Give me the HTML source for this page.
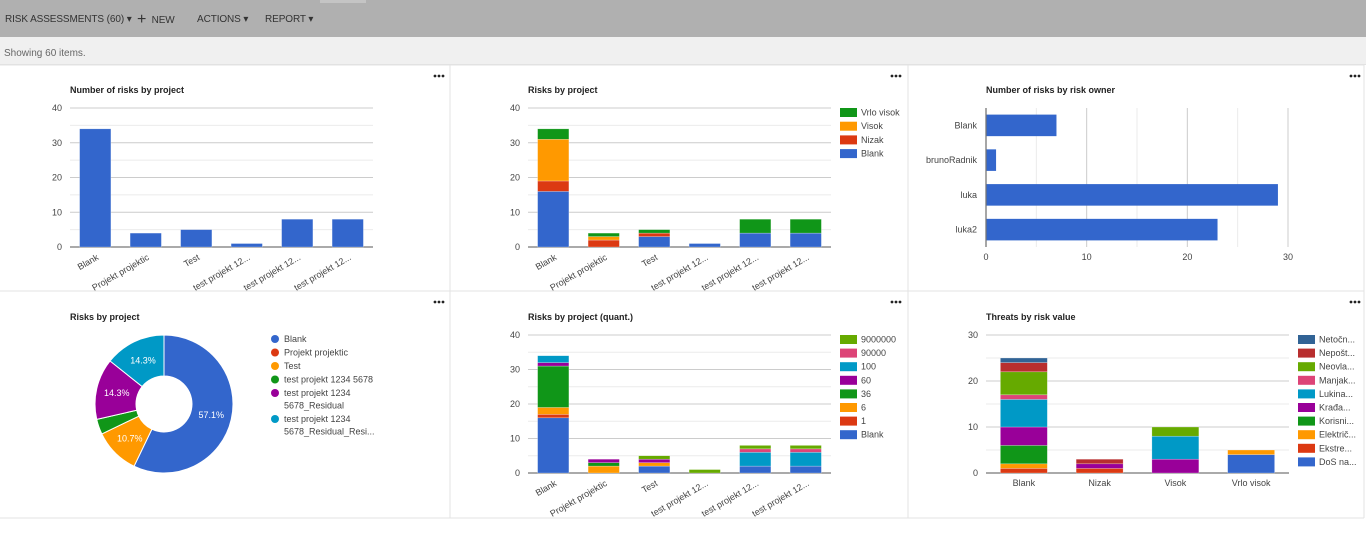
<!DOCTYPE html>
<html><head><meta charset="utf-8">
<style>
html,body{margin:0;padding:0;width:1366px;height:549px;overflow:hidden;background:#fff;font-family:"Liberation Sans",Arial,sans-serif}
#topbar{position:absolute;left:0;top:0;width:1366px;height:37px;background:#b0b0b0;}
#topbar span{position:absolute;top:14px;font-size:10px;color:#333;white-space:nowrap;letter-spacing:-0.1px}
#sub{position:absolute;left:0;top:37px;width:1366px;height:27px;background:#f0f0f0;border-bottom:1px solid #e2e2e2}
#sub span{position:absolute;left:4px;top:11px;font-size:10px;color:#666}
svg{position:absolute;left:0;top:0}
</style></head><body>
<div id="topbar">
<div style="position:absolute;left:320px;top:0;width:46px;height:3px;background:#c4c4c4"></div>
<span style="left:5px">RISK ASSESSMENTS (60) ▾</span>
<span style="left:137px;top:10px"><b style="font-size:16px;font-weight:normal;position:relative;top:1px">+</b>&nbsp; NEW</span>
<span style="left:197px">ACTIONS ▾</span>
<span style="left:265px">REPORT ▾</span>
</div>
<div id="sub"><span>Showing 60 items.</span></div>
<svg id="s" width="1366" height="549" xmlns="http://www.w3.org/2000/svg" style="top:0"></svg>
<script>
// ---- data ----
const projCats = ["Blank","Projekt projektic","Test","test projekt 12...","test projekt 12...","test projekt 12..."];
const projCounts = [34,4,5,1,8,8];
const levelSeries = ["Blank","Nizak","Visok","Vrlo visok"];
const levelBlank = [16,0,3,1,4,4];
const levelNizak = [3,2,1,0,0,0];
const levelVisok = [12,1,0,0,0,0];
const levelVrlo = [3,1,1,0,4,4];
const ownerCats = ["Blank","brunoRadnik","luka","luka2"];
const ownerCounts = [7,1,29,23];
const pieLabels = ["Blank","Projekt projektic","Test","test projekt 1234 5678","test projekt 1234 5678_Residual","test projekt 1234 5678_Residual_Resi..."];
const pieValues = [16,0,3,1,4,4];
const quantSeries = ["Blank","1","6","36","60","100","90000","9000000"];
const qBlank = [16,0,2,0,2,2];
const q1 = [1,0,0,0,0,0];
const q6 = [2,2,1,0,0,0];
const q36 = [12,1,0,0,0,0];
const q60 = [1,1,1,0,0,0];
const q100 = [2,0,0,0,4,4];
const q90000 = [0,0,0,0,1,1];
const q9000000 = [0,0,1,1,1,1];
const threatCats = ["Blank","Nizak","Visok","Vrlo visok"];
const threatSeries = ["DoS na...","Ekstre...","Električ...","Korisni...","Krađa...","Lukina...","Manjak...","Neovla...","Nepošt...","Netočn..."];
const tDoS = [0,0,0,4];
const tEkstre = [1,1,0,0];
const tElektr = [1,0,0,1];
const tKorisni = [4,0,0,0];
const tKrada = [4,1,3,0];
const tLukina = [6,0,5,0];
const tManjak = [1,0,0,0];
const tNeovla = [5,0,2,0];
const tNepost = [2,1,0,0];
const tNetocn = [1,0,0,0];

const S = document.getElementById('s');
const NS = "http://www.w3.org/2000/svg";
function mk(tag, attrs, parent){const e=document.createElementNS(NS,tag);for(const k in attrs)e.setAttribute(k,attrs[k]);(parent||S).appendChild(e);return e;}
function txt(x,y,t,attrs,parent){const e=mk('text',Object.assign({x:x,y:y,'font-size':9,fill:'#444','font-family':'Liberation Sans, Arial, sans-serif'},attrs||{}),parent);e.textContent=t;return e;}

// panel borders
[[450,65,450,518],[908,65,908,518],[1364,65,1364,518],[0,291,1364,291],[0,518,1364,518],[0,65,1364,65]].forEach(l=>{
  const e=mk('line',{x1:l[0],y1:l[1],x2:l[2],y2:l[3],stroke:'#e3e3e3','stroke-width':1});
  
  
});
[[439,76],[896,76],[1355,76],[439,302],[896,302],[1355,302]].forEach(p=>{
  const g=mk('g',{});
  
  
  [-4,0,4].forEach(d=>mk('circle',{cx:p[0]+d,cy:p[1],r:1.4,fill:'#222'},g));
});

function title(x,y,t){const e=txt(x,y,t,{'font-weight':'bold',fill:'#222'});}

function vAxis(g,x0,x1,y0,y1,max,step){
  const sc=v=>y0-(v/max)*(y0-y1);
  for(let v=0;v<=max;v+=step/2){
    const major=(v%step===0);
    const l=mk('line',{x1:x0,x2:x1,y1:sc(v),y2:sc(v),stroke:major?'#ccc':'#ebebeb','stroke-width':1},g);
    
    
    if(major){const t=txt(x0-8,sc(v)+3,String(v),{'text-anchor':'end'},g);}
  }
  const b=mk('line',{x1:x0,x2:x1,y1:y0,y2:y0,stroke:'#777','stroke-width':1.3},g);
  
  
  return sc;
}

function stackedChart(opt){
  const g=mk('g',{});
  
  
  const sc=vAxis(g,opt.x0,opt.x1,opt.y0,opt.y1,opt.max,opt.step);
  const n=opt.cats.length, band=(opt.x1-opt.x0)/n, bw=band*opt.bwr;
  for(let i=0;i<n;i++){
    const cx=opt.x0+band*(i+0.5);
    let acc=0;
    opt.series.forEach((s,si)=>{
      const v=s[i]; if(!v) return;
      const yTop=sc(acc+v), yBot=sc(acc);
      const r=mk('rect',{x:cx-bw/2,y:yTop,width:bw,height:yBot-yTop,fill:opt.colors[si],stroke:'#fff','stroke-width':0.5,'stroke-opacity':0.5},g);
      
      
      acc+=v;
    });
    let t;
    if(opt.rotate){t=txt(cx+4,opt.y0+12,opt.cats[i],{'text-anchor':'end',transform:`rotate(-30 ${cx+4} ${opt.y0+12})`},g);}
    else{t=txt(cx,opt.y0+13,opt.cats[i],{'text-anchor':'middle'},g);}
    
    
  }
  if(opt.legend){
    const L=opt.legend;
    for(let k=0;k<opt.seriesNames.length;k++){
      const si=opt.seriesNames.length-1-k;
      const y=L.y+k*L.dy;
      const lg=mk('g',{},g);
      
      
      mk('rect',{x:L.x,y:y-4,width:17,height:9,fill:opt.colors[si]},lg);
      txt(L.x+21,y+3.5,opt.seriesNames[si],{fill:'#444'},lg);
    }
  }
}

title(70,93,'Number of risks by project');
stackedChart({name:'risks-by-project-bar-chart',x0:70,x1:373,y0:247,y1:108,max:40,step:10,cats:projCats,series:[projCounts],seriesNames:['Count'],colors:['#3366cc'],bwr:0.62,rotate:true});

title(528,93,'Risks by project');
stackedChart({name:'risks-by-project-stacked-chart',x0:528,x1:831,y0:247,y1:108,max:40,step:10,cats:projCats,series:[levelBlank,levelNizak,levelVisok,levelVrlo],seriesNames:levelSeries,colors:['#3366cc','#dc3912','#ff9900','#109618'],bwr:0.62,rotate:true,legend:{x:840,y:112,dy:13.7}});

title(986,93,'Number of risks by risk owner');
(function(){
  const g=mk('g',{});
  
  
  const x0=986,y0=108,y1=247,max=30,xMaxPx=1288;
  const sx=v=>x0+(v/max)*(xMaxPx-x0);
  for(let v=0;v<=max;v+=5){
    const major=v%10===0;
    const l=mk('line',{x1:sx(v),x2:sx(v),y1:y0,y2:y1,stroke:major?'#ccc':'#ebebeb'},g);
    
    
    if(major){const t=txt(sx(v),y1+13,String(v),{'text-anchor':'middle'},g);}
  }
  const band=(y1-y0)/ownerCats.length, bh=band*0.62;
  ownerCats.forEach((c,i)=>{
    const cy=y0+band*(i+0.5);
    const r=mk('rect',{x:x0,y:cy-bh/2,width:sx(ownerCounts[i])-x0,height:bh,fill:'#3366cc'},g);
    
    
    const t=txt(x0-9,cy+3,c,{'text-anchor':'end'},g);
    
    
  });
  const ax=mk('line',{x1:x0,x2:x0,y1:y0,y2:y1,stroke:'#777','stroke-width':1.3},g);
  
  
})();

title(70,320,'Risks by project');
(function(){
  const g=mk('g',{});
  
  
  const cx=164,cy=404,R=69,r=28;
  const cols=['#3366cc','#dc3912','#ff9900','#109618','#990099','#0099c6'];
  const tot=pieValues.reduce((a,b)=>a+b,0);
  let a=0;
  pieValues.forEach((v,i)=>{
    if(!v) return;
    const a0=a/tot*2*Math.PI, a1=(a+v)/tot*2*Math.PI; a+=v;
    const P=(ang,rad)=>[cx+rad*Math.sin(ang),cy-rad*Math.cos(ang)];
    const large=(a1-a0)>Math.PI?1:0;
    const p0=P(a0,R),p1=P(a1,R),q1=P(a1,r),q0=P(a0,r);
    const p=mk('path',{d:`M${p0[0]},${p0[1]}A${R},${R} 0 ${large} 1 ${p1[0]},${p1[1]}L${q1[0]},${q1[1]}A${r},${r} 0 ${large} 0 ${q0[0]},${q0[1]}Z`,fill:cols[i],stroke:'#fff','stroke-width':1},g);
    
    
    const pct=v/tot*100;
    if(pct>5){
      const m=P((a0+a1)/2,(R+r)/2);
      const t=txt(m[0],m[1]+3,pct.toFixed(1)+'%',{'text-anchor':'middle',fill:'#fff'},g);
      
      
    }
  });
  const lines=[["Blank"],["Projekt projektic"],["Test"],["test projekt 1234 5678"],["test projekt 1234","5678_Residual"],["test projekt 1234","5678_Residual_Resi..."]];
  let y=339;
  lines.forEach((ls,i)=>{
    const lg=mk('g',{},g);
    
    
    mk('circle',{cx:275,cy:y,r:4,fill:cols[i]},lg);
    ls.forEach((s,k)=>txt(284,y+3+k*12.5,s,{},lg));
    y+=13.5+(ls.length-1)*12.5;
  });
})();

title(528,320,'Risks by project (quant.)');
stackedChart({name:'risks-by-project-quant-chart',x0:528,x1:831,y0:473,y1:335,max:40,step:10,cats:projCats,series:[qBlank,q1,q6,q36,q60,q100,q90000,q9000000],seriesNames:quantSeries,colors:['#3366cc','#dc3912','#ff9900','#109618','#990099','#0099c6','#dd4477','#66aa00'],bwr:0.62,rotate:true,legend:{x:840,y:339,dy:13.6}});

title(986,320,'Threats by risk value');
stackedChart({name:'threats-by-risk-value-chart',x0:986,x1:1289,y0:473,y1:335,max:30,step:10,cats:threatCats,series:[tDoS,tEkstre,tElektr,tKorisni,tKrada,tLukina,tManjak,tNeovla,tNepost,tNetocn],seriesNames:threatSeries,colors:['#3366cc','#dc3912','#ff9900','#109618','#990099','#0099c6','#dd4477','#66aa00','#b82e2e','#316395'],bwr:0.62,rotate:false,legend:{x:1298,y:339,dy:13.6}});
</script>
</body></html>
